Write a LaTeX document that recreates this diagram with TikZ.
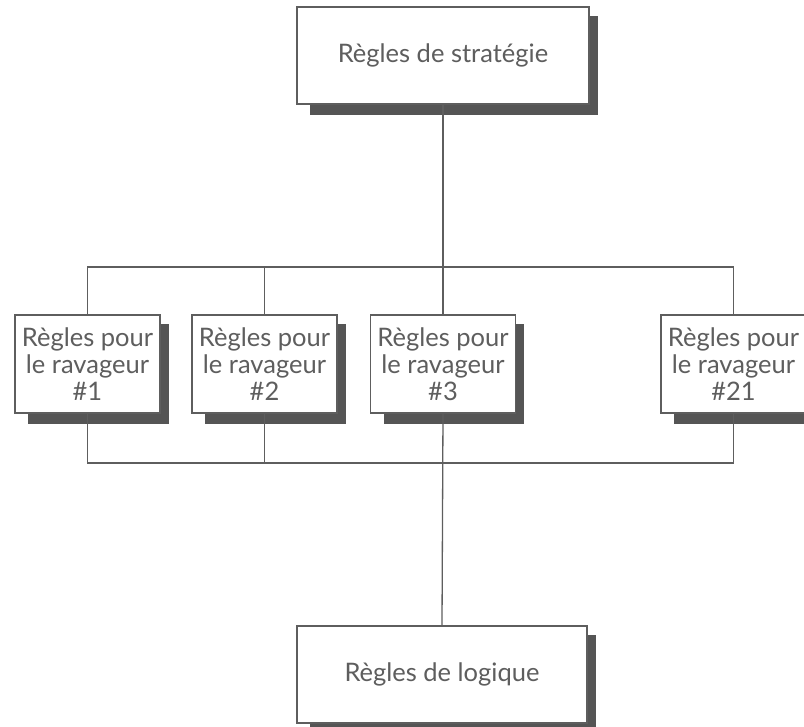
\documentclass[tikz,border=0pt]{standalone}
\usepackage{fontspec}
\setmainfont{Lato}
\usetikzlibrary{backgrounds,calc}
\definecolor{ink}{HTML}{5E5E5E}
\definecolor{shadowcol}{HTML}{555555}
\begin{document}
\begin{tikzpicture}[x=1pt,y=-1pt,
  box/.style={draw=ink, line width=1.3pt, fill=white, text=ink, rectangle, inner sep=0pt, align=center, font=\fontsize{25.5}{27}\selectfont},
  bigbox/.style={box, minimum width=292pt, minimum height=97pt},
  smallbox/.style={box, minimum width=145pt, minimum height=98pt},
  conn/.style={draw=ink, line width=1.3pt}]
\useasboundingbox (0,0) rectangle (804,727);
\clip (0,0) rectangle (804,727);
\node[bigbox] (top) at (443,55.5) {Règles de stratégie};
\node[smallbox] (r1) at (87.5,364) {Règles pour\\le ravageur\\\#1};
\node[smallbox] (r2) at (264.5,364) {Règles pour\\le ravageur\\\#2};
\node[smallbox] (r3) at (443,364) {Règles pour\\le ravageur\\\#3};
\node[smallbox] (r21) at (733.5,364) {Règles pour\\le ravageur\\\#21};
\node[bigbox, minimum width=290pt] (bot) at (442,674.5) {Règles de logique};
\coordinate (busT) at (443,267);
\coordinate (busB) at (443,463);
\begin{scope}[on background layer]
  \foreach \n in {top,r1,r2,r3,r21,bot}{
    \fill[shadowcol] ($(\n.north west)+(14,10)$) rectangle ($(\n.south east)+(8,10)$);
  }
  \draw[conn] (top.south) -- (r3.north);
  \draw[conn] (r1.north) -- (r1.north |- busT) -- (r21.north |- busT) -- (r21.north);
  \draw[conn] (r2.north) -- (r2.north |- busT);
  \draw[conn] (r1.south) -- (r1.south |- busB) -- (r21.south |- busB) -- (r21.south);
  \draw[conn] (r2.south) -- (r2.south |- busB);
  \draw[conn] (r3.south) -- (bot.north);
\end{scope}
\end{tikzpicture}
\end{document}
